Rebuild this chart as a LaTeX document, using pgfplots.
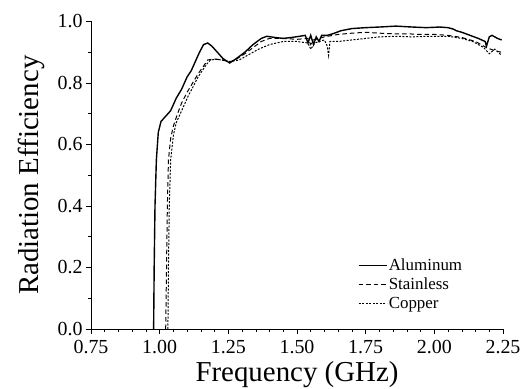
\documentclass[border=0pt]{standalone}
\usepackage{fontspec}
\setmainfont{Liberation Serif}
\usepackage{pgfplots}
\pgfplotsset{compat=1.18}

% Measured radiation efficiency of the three antenna materials
\pgfplotstableread{
f E
0.978 0.000
0.980 0.200
0.983 0.400
0.988 0.550
0.995 0.640
1.005 0.675
1.020 0.690
1.040 0.710
1.060 0.750
1.080 0.780
1.100 0.820
1.115 0.840
1.130 0.870
1.145 0.900
1.160 0.925
1.175 0.930
1.190 0.920
1.210 0.900
1.230 0.880
1.255 0.865
1.280 0.880
1.310 0.900
1.340 0.925
1.370 0.945
1.390 0.952
1.420 0.948
1.450 0.945
1.480 0.948
1.510 0.952
1.530 0.955
1.540 0.930
1.550 0.955
1.560 0.925
1.570 0.950
1.580 0.935
1.590 0.955
1.610 0.955
1.630 0.960
1.660 0.970
1.700 0.977
1.750 0.980
1.800 0.982
1.860 0.985
1.920 0.982
1.970 0.980
2.020 0.982
2.050 0.980
2.070 0.975
2.080 0.970
2.100 0.965
2.130 0.955
2.160 0.945
2.185 0.935
2.190 0.920
2.200 0.950
2.210 0.955
2.230 0.945
2.245 0.940
}\aluminum

\pgfplotstableread{
f E
1.022 0.000
1.025 0.200
1.028 0.400
1.032 0.550
1.040 0.620
1.050 0.660
1.065 0.700
1.080 0.735
1.100 0.770
1.120 0.800
1.140 0.830
1.160 0.855
1.175 0.875
1.200 0.878
1.230 0.875
1.255 0.868
1.280 0.878
1.310 0.895
1.340 0.915
1.370 0.935
1.400 0.945
1.450 0.945
1.500 0.942
1.540 0.945
1.550 0.925
1.560 0.940
1.600 0.950
1.650 0.958
1.700 0.962
1.750 0.965
1.800 0.962
1.850 0.960
1.900 0.960
1.950 0.958
2.000 0.958
2.050 0.955
2.100 0.948
2.150 0.935
2.190 0.915
2.220 0.905
2.245 0.900
}\stainless

\pgfplotstableread{
f E
1.030 0.000
1.032 0.200
1.035 0.400
1.040 0.550
1.050 0.630
1.060 0.670
1.075 0.700
1.090 0.730
1.105 0.760
1.120 0.785
1.140 0.820
1.155 0.840
1.170 0.860
1.185 0.875
1.210 0.877
1.240 0.872
1.260 0.870
1.290 0.875
1.320 0.890
1.360 0.910
1.400 0.925
1.450 0.935
1.500 0.935
1.540 0.930
1.550 0.910
1.565 0.930
1.580 0.935
1.600 0.940
1.610 0.920
1.615 0.890
1.620 0.935
1.650 0.935
1.700 0.940
1.750 0.945
1.800 0.950
1.860 0.952
1.920 0.950
1.980 0.952
2.050 0.952
2.100 0.945
2.140 0.935
2.180 0.915
2.200 0.895
2.220 0.910
2.245 0.890
}\copper

\newcommand{\legfont}{\fontsize{17}{19}\selectfont}

\begin{document}
\begin{tikzpicture}
\useasboundingbox (-91bp,-60bp) rectangle (434bp,329bp);
\begin{axis}[
  scale only axis,
  width=412bp, height=307.5bp,
  xmin=0.75, xmax=2.25,
  ymin=0, ymax=1.0,
  axis x line*=bottom,
  axis y line*=left,
  axis line style={-, line width=0.8pt},
  xtick={0.75,1.00,...,2.25},
  ytick={0,0.2,...,1.0},
  minor x tick num=4,
  minor y tick num=1,
  tick align=outside,
  major tick length=5bp,
  minor tick length=3bp,
  tick style={black, line width=0.6pt},
  xticklabel style={yshift=-3bp, /pgf/number format/.cd, fixed, fixed zerofill, precision=2},
  yticklabel style={/pgf/number format/.cd, fixed, fixed zerofill, precision=1},
  /pgf/number format/assume math mode=true,
  ticklabel style={font=\fontsize{20}{23}\selectfont},
  label style={font=\fontsize{29}{32}\selectfont},
  xlabel={Frequency (GHz)},
  ylabel={Radiation Efficiency},
  xlabel style={yshift=-1bp},
  ylabel style={yshift=6bp},
  legend cell align=left,
  legend style={draw=none, fill=none, at={(0.64,0.24)}, anchor=north west,
    row sep=3bp, nodes={inner sep=1.5bp},
    /tikz/every even column/.append style={column sep=1bp}},
  legend image code/.code={\draw[#1] (0bp,0bp) -- (28bp,0bp);},
]
\addplot[black, line width=1.4pt] table[x=f, y=E] {\aluminum};
\addlegendentry{\legfont Aluminum}
\addplot[black, line width=1pt, dash pattern=on 4.5bp off 3bp] table[x=f, y=E] {\stainless};
\addlegendentry{\legfont Stainless}
\addplot[black, line width=1pt, dash pattern=on 2bp off 1.5bp] table[x=f, y=E] {\copper};
\addlegendentry{\legfont Copper}
\end{axis}
\end{tikzpicture}
\end{document}
